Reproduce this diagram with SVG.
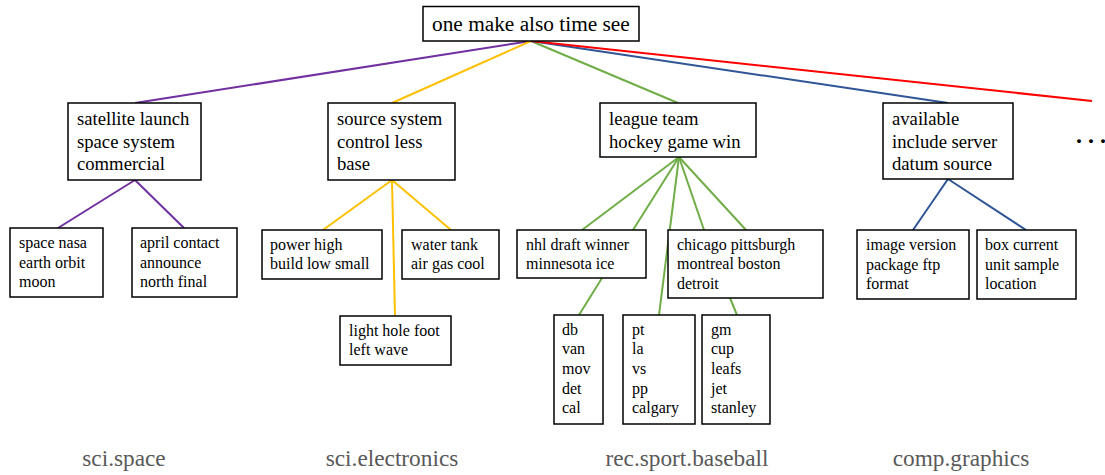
<svg xmlns="http://www.w3.org/2000/svg" width="1105" height="475" viewBox="0 0 1105 475">
<style>
.box{fill:#fff;stroke:#000;stroke-width:1.5}
.t0{font-size:21.33px}
.t1{font-size:18.67px}
.t2{font-size:16px}
.lab{font-size:23.3px;fill:#595959;text-anchor:middle}
.dots{font-size:24px;font-weight:bold}
.c{fill:none;stroke-width:2}
.pu{stroke:#7030A0}.ye{stroke:#FFC000}.gr{stroke:#70AD47}.bl{stroke:#2F5597}.re{stroke:#FF0000}
</style>
<g font-family="Liberation Serif, Times New Roman, serif" fill="#000">
<g id="connectors">
<line class="c pu" x1="531" y1="41" x2="135" y2="103"/>
<line class="c ye" x1="531" y1="41" x2="392" y2="103"/>
<line class="c gr" x1="531" y1="41" x2="678" y2="103"/>
<line class="c bl" x1="531" y1="41" x2="948" y2="103"/>
<line class="c re" x1="531" y1="41" x2="1092" y2="101"/>
<line class="c pu" x1="135" y1="180" x2="58" y2="228"/>
<line class="c pu" x1="135" y1="180" x2="184" y2="228"/>
<line class="c ye" x1="392" y1="180" x2="323" y2="230"/>
<line class="c ye" x1="392" y1="180" x2="451" y2="230"/>
<line class="c ye" x1="392" y1="180" x2="395" y2="316"/>
<line class="c gr" x1="679" y1="157" x2="582" y2="230"/>
<line class="c gr" x1="679" y1="157" x2="633" y2="230"/>
<line class="c gr" x1="679" y1="157" x2="659" y2="315"/>
<line class="c gr" x1="679" y1="157" x2="704" y2="230"/>
<line class="c gr" x1="679" y1="157" x2="746" y2="230"/>
<line class="c gr" x1="602" y1="278" x2="579" y2="315"/>
<line class="c gr" x1="730" y1="298" x2="737" y2="315"/>
<line class="c bl" x1="948" y1="179" x2="913" y2="230"/>
<line class="c bl" x1="948" y1="179" x2="1026" y2="230"/>
</g>
<g id="root"><rect class="box" x="423" y="6.5" width="216" height="34.5"/><text class="t0" x="432" y="31">one make also time see</text></g>
<g id="n-space"><rect class="box" x="68" y="103" width="133" height="77"/><text class="t1" x="77" y="125">satellite launch</text><text class="t1" x="77" y="148">space system</text><text class="t1" x="77" y="170">commercial</text></g>
<g id="n-electronics"><rect class="box" x="328" y="103" width="127" height="77"/><text class="t1" x="337" y="125">source system</text><text class="t1" x="337" y="148">control less</text><text class="t1" x="337" y="170">base</text></g>
<g id="n-baseball"><rect class="box" x="600" y="103" width="156" height="54"/><text class="t1" x="609" y="125">league team</text><text class="t1" x="609" y="148">hockey game win</text></g>
<g id="n-graphics"><rect class="box" x="883" y="103" width="130" height="76"/><text class="t1" x="892" y="125">available</text><text class="t1" x="892" y="148">include server</text><text class="t1" x="892" y="170">datum source</text></g>
<g id="n-more"><text class="dots" x="1076" y="143">. . .</text></g>
<g id="n-space-1"><rect class="box" x="10" y="228" width="93" height="69"/><text class="t2" x="19" y="248">space nasa</text><text class="t2" x="19" y="268">earth orbit</text><text class="t2" x="19" y="287">moon</text></g>
<g id="n-space-2"><rect class="box" x="132" y="228" width="105" height="69"/><text class="t2" x="140" y="248">april contact</text><text class="t2" x="140" y="268">announce</text><text class="t2" x="140" y="287">north final</text></g>
<g id="n-elec-1"><rect class="box" x="262" y="230" width="120" height="49"/><text class="t2" x="270" y="250">power high</text><text class="t2" x="270" y="269">build low small</text></g>
<g id="n-elec-2"><rect class="box" x="402" y="230" width="97" height="49"/><text class="t2" x="411" y="250">water tank</text><text class="t2" x="411" y="269">air gas cool</text></g>
<g id="n-elec-3"><rect class="box" x="340" y="316" width="111" height="49"/><text class="t2" x="349" y="336">light hole foot</text><text class="t2" x="349" y="355">left wave</text></g>
<g id="n-base-1"><rect class="box" x="517" y="230" width="129" height="48"/><text class="t2" x="526" y="250">nhl draft winner</text><text class="t2" x="526" y="269">minnesota ice</text></g>
<g id="n-base-2"><rect class="box" x="668" y="230" width="155" height="68"/><text class="t2" x="677" y="250">chicago pittsburgh</text><text class="t2" x="677" y="269">montreal boston</text><text class="t2" x="677" y="289">detroit</text></g>
<g id="n-base-3"><rect class="box" x="554" y="315" width="49" height="109"/><text class="t2" x="562" y="335">db</text><text class="t2" x="562" y="354">van</text><text class="t2" x="562" y="374">mov</text><text class="t2" x="562" y="394">det</text><text class="t2" x="562" y="413">cal</text></g>
<g id="n-base-4"><rect class="box" x="623" y="315" width="72" height="109"/><text class="t2" x="632" y="335">pt</text><text class="t2" x="632" y="354">la</text><text class="t2" x="632" y="374">vs</text><text class="t2" x="632" y="394">pp</text><text class="t2" x="632" y="413">calgary</text></g>
<g id="n-base-5"><rect class="box" x="702" y="315" width="68" height="109"/><text class="t2" x="711" y="335">gm</text><text class="t2" x="711" y="354">cup</text><text class="t2" x="711" y="374">leafs</text><text class="t2" x="711" y="394">jet</text><text class="t2" x="711" y="413">stanley</text></g>
<g id="n-graph-1"><rect class="box" x="857" y="230" width="112" height="69"/><text class="t2" x="866" y="250">image version</text><text class="t2" x="866" y="270">package ftp</text><text class="t2" x="866" y="289">format</text></g>
<g id="n-graph-2"><rect class="box" x="977" y="230" width="99" height="69"/><text class="t2" x="985" y="250">box current</text><text class="t2" x="985" y="270">unit sample</text><text class="t2" x="985" y="289">location</text></g>
<g id="labels">
<text class="lab" x="124" y="466">sci.space</text>
<text class="lab" x="392" y="466">sci.electronics</text>
<text class="lab" x="687" y="466">rec.sport.baseball</text>
<text class="lab" x="961" y="466">comp.graphics</text>
</g>
</g>
</svg>
